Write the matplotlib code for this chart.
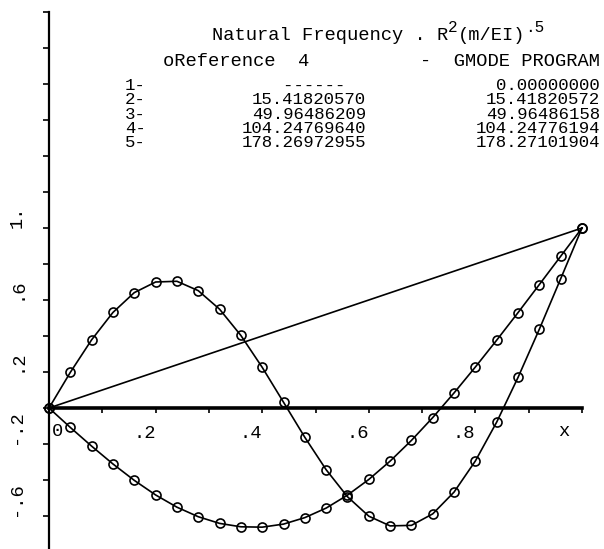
import matplotlib.pyplot as plt

# mode shapes, pinned-free beam, normalised to 1 at the tip
x_ref = [0.0, 0.04, 0.08, 0.12, 0.16, 0.20, 0.24, 0.28, 0.32, 0.36, 0.40, 0.44, 0.48,
         0.52, 0.56, 0.60, 0.64, 0.68, 0.72, 0.76, 0.80, 0.84, 0.88, 0.92, 0.96, 1.0]
mode2 = [0.0, -0.108, -0.212, -0.311, -0.402, -0.483, -0.551, -0.604, -0.641, -0.660,
         -0.662, -0.645, -0.609, -0.556, -0.484, -0.397, -0.295, -0.180, -0.053, 0.084,
         0.228, 0.377, 0.530, 0.686, 0.843, 1.0]
mode3 = [0.0, 0.198, 0.379, 0.531, 0.641, 0.700, 0.704, 0.652, 0.549, 0.403, 0.226,
         0.032, -0.163, -0.343, -0.493, -0.601, -0.655, -0.652, -0.588, -0.467, -0.294,
         -0.078, 0.170, 0.438, 0.718, 1.0]
x_rigid = [0.0, 1.0]
mode1 = [0.0, 1.0]

mode_no = ["1-", "2-", "3-", "4-", "5-"]
freq_ref = ["------  ", "15.41820570", "49.96486209", "104.24769640", "178.26972955"]
freq_gmode = ["0.00000000", "15.41820572", "49.96486158", "104.24776194", "178.27101904"]

xtick_pos = [0.1, 0.2, 0.3, 0.4, 0.5, 0.6, 0.7, 0.8, 0.9, 1.0]
xtick_lab = ["", ".2", "", ".4", "", ".6", "", ".8", "", ""]
ytick_pos = [-0.6, -0.4, -0.2, 0.0, 0.2, 0.4, 0.6, 0.8, 1.0, 1.2, 1.4, 1.6, 1.8, 2.0, 2.2]
ytick_lab = ["-.6", "", "-.2", "", ".2", "", ".6", "", "1.", "", "", "", "", "", ""]

plt.rcParams['font.family'] = ['Liberation Mono', 'DejaVu Sans Mono']
fs = 13.5
fs_tab = 12.5

fig = plt.figure(figsize=(6.04, 5.49), dpi=100)
ax = fig.add_axes([0, 0, 1, 1])

ax.plot(x_rigid, mode1, color="black", linewidth=1.2)
ax.plot(x_ref, mode2, color="black", linewidth=1.2, marker="o", markersize=6.5,
        markerfacecolor="none", markeredgewidth=1.2)
ax.plot(x_ref, mode3, color="black", linewidth=1.2, marker="o", markersize=6.5,
        markerfacecolor="none", markeredgewidth=1.2)

ax.set_xlim(-49 / 533, 555 / 533)
ax.set_ylim(-141 / 180, 408 / 180)

ax.spines["top"].set_visible(False)
ax.spines["right"].set_visible(False)
ax.spines["left"].set_position(("data", 0))
ax.spines["bottom"].set_position(("data", 0))
ax.spines["left"].set_bounds(-0.8, 2.2)
ax.spines["bottom"].set_bounds(0, 1)
ax.spines["left"].set_linewidth(1.6)
ax.spines["bottom"].set_linewidth(2.6)

ax.set_xticks(xtick_pos)
ax.set_xticklabels(xtick_lab, fontsize=fs, ha="right")
ax.tick_params(axis="x", direction="out", length=3.5, width=1.2, pad=9)
ax.set_yticks(ytick_pos)
ax.set_yticklabels(ytick_lab, fontsize=fs, rotation=90, va="bottom", ha="right")
ax.tick_params(axis="y", direction="out", length=4, width=1.2, pad=13)

ax.text(0.005, -0.13, "0", fontsize=fs, ha="left", va="center")
ax.text(0.965, -0.13, "x", fontsize=fs, ha="center", va="center")

# header text
t1 = fig.text(212 / 604, 1 - 40 / 549, "Natural Frequency . R", fontsize=fs, va="baseline")
t2 = ax.annotate("2", xy=(1, 0.55), xycoords=t1, fontsize=11.5, va="bottom")
t3 = ax.annotate("(m/EI)", xy=(1, 0), xycoords=(t2, t1), fontsize=fs, va="bottom")
ax.annotate(".5", xy=(1, 0.55), xycoords=t3, fontsize=11.5, va="bottom")

fig.text(163 / 604, 1 - 62 / 549, "oReference  4", fontsize=fs, va="center")
fig.text(600 / 604, 1 - 62 / 549, "-  GMODE PROGRAM", fontsize=fs, va="center", ha="right")

# frequency table, one text per column
tab_top = 1 - 78 / 549
fig.text(125 / 604, tab_top, "\n".join(mode_no), fontsize=fs_tab, va="top",
         linespacing=0.94)
fig.text(366 / 604, tab_top, "\n".join(freq_ref), fontsize=fs_tab, va="top",
         ha="right", multialignment="right", linespacing=0.94)
fig.text(600 / 604, tab_top, "\n".join(freq_gmode), fontsize=fs_tab, va="top",
         ha="right", multialignment="right", linespacing=0.94)

plt.savefig("out.png", dpi=100)
